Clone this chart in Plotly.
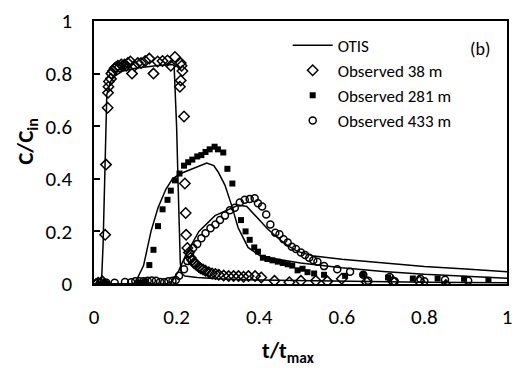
import plotly.graph_objects as go

# OTIS model curves
otis38_x = [0.0, 0.018, 0.022, 0.026, 0.031, 0.04, 0.05, 0.07, 0.1, 0.15, 0.19, 0.194, 0.2, 0.205, 0.209, 0.212, 0.22, 0.25, 0.3, 0.4, 0.6, 0.8, 1.0]
otis38_y = [0.0, 0.0, 0.15, 0.45, 0.72, 0.77, 0.79, 0.81, 0.82, 0.83, 0.835, 0.83, 0.6, 0.3, 0.08, 0.04, 0.03, 0.025, 0.02, 0.015, 0.01, 0.007, 0.005]

otis281_x = [0.0, 0.09, 0.10, 0.12, 0.138, 0.155, 0.174, 0.19, 0.21, 0.24, 0.273, 0.29, 0.301, 0.317, 0.333, 0.349, 0.373, 0.404, 0.45, 0.5, 0.6, 0.7, 0.8, 0.9, 1.0]
otis281_y = [0.0, 0.0, 0.005, 0.07, 0.2, 0.29, 0.36, 0.40, 0.42, 0.44, 0.46, 0.45, 0.425, 0.376, 0.30, 0.214, 0.139, 0.105, 0.092, 0.08, 0.062, 0.048, 0.037, 0.029, 0.022]

otis433_x = [0.0, 0.175, 0.19, 0.205, 0.222, 0.254, 0.293, 0.333, 0.35, 0.37, 0.397, 0.42, 0.445, 0.47, 0.493, 0.533, 0.6, 0.716, 0.8, 0.9, 1.0]
otis433_y = [0.0, 0.0, 0.012, 0.05, 0.11, 0.20, 0.26, 0.29, 0.30, 0.295, 0.25, 0.21, 0.175, 0.145, 0.124, 0.106, 0.094, 0.079, 0.067, 0.057, 0.047]

# Observed 38 m
obs38_x = [0.005, 0.01, 0.015, 0.02, 0.025, 0.027, 0.029, 0.033, 0.034, 0.035, 0.036, 0.041, 0.042, 0.046, 0.05, 0.054,
           0.058, 0.062, 0.066, 0.07, 0.074, 0.078, 0.082, 0.088, 0.092, 0.098, 0.106, 0.114, 0.124, 0.134, 0.144,
           0.154, 0.166, 0.178, 0.186, 0.196, 0.21, 0.212, 0.214, 0.21, 0.208, 0.218, 0.22, 0.222, 0.223, 0.226,
           0.23, 0.234, 0.238, 0.242, 0.246, 0.25, 0.254, 0.258, 0.264, 0.27, 0.278, 0.286, 0.294, 0.302, 0.314,
           0.326, 0.338, 0.35, 0.362, 0.374, 0.39, 0.405, 0.437, 0.473, 0.501, 0.537, 0.565, 0.6, 0.66, 0.724, 0.788, 0.852]
obs38_y = [0.0, 0.005, 0.0, 0.01, 0.0, 0.187, 0.454, 0.67, 0.727, 0.75, 0.77, 0.78, 0.80, 0.81, 0.82, 0.825,
           0.83, 0.825, 0.835, 0.83, 0.835, 0.83, 0.84, 0.846, 0.80, 0.83, 0.84, 0.84, 0.848, 0.857, 0.80,
           0.846, 0.848, 0.85, 0.83, 0.863, 0.84, 0.83, 0.81, 0.774, 0.75, 0.637, 0.382, 0.27, 0.187, 0.137,
           0.12, 0.10, 0.09, 0.08, 0.075, 0.07, 0.065, 0.06, 0.055, 0.05, 0.045, 0.04, 0.038, 0.035, 0.032,
           0.03, 0.03, 0.03, 0.028, 0.03, 0.03, 0.025, 0.012, 0.007, 0.012, 0.012, 0.01, 0.02, 0.008, 0.01, 0.01, -0.004]

# Observed 281 m
obs281_x = [0.02, 0.025, 0.03, 0.11, 0.125, 0.134, 0.144, 0.155, 0.166, 0.178, 0.186, 0.196, 0.207, 0.218, 0.228,
            0.238, 0.25, 0.26, 0.27, 0.28, 0.292, 0.30, 0.313, 0.323, 0.335, 0.356, 0.367, 0.377, 0.388, 0.397,
            0.409, 0.42, 0.432, 0.445, 0.457, 0.469, 0.48, 0.493, 0.505, 0.517, 0.533, 0.557, 0.608, 0.651,
            0.712, 0.772, 0.832, 0.896, 0.955]
obs281_y = [0.0, 0.005, 0.0, 0.005, 0.01, 0.072, 0.13, 0.22, 0.284, 0.32, 0.355, 0.394, 0.42, 0.45, 0.463,
            0.473, 0.485, 0.49, 0.502, 0.512, 0.522, 0.512, 0.50, 0.438, 0.382, 0.243, 0.20, 0.168, 0.139, 0.123,
            0.10, 0.095, 0.09, 0.085, 0.08, 0.075, 0.07, 0.052, 0.058, 0.045, 0.04, 0.035, 0.031, 0.035,
            0.025, 0.021, 0.021, 0.02, 0.016]

# Observed 433 m
obs433_x = [0.015, 0.03, 0.05, 0.075, 0.09, 0.1, 0.11, 0.12, 0.13, 0.14, 0.15, 0.16, 0.17, 0.18, 0.19, 0.198,
            0.206, 0.218, 0.226, 0.232, 0.24, 0.25, 0.26, 0.27, 0.282, 0.294, 0.305, 0.317, 0.329, 0.341, 0.353,
            0.365, 0.377, 0.389, 0.397, 0.407, 0.417, 0.427, 0.439, 0.449, 0.459, 0.469, 0.479, 0.489, 0.501,
            0.511, 0.521, 0.531, 0.541, 0.557, 0.589, 0.62, 0.652, 0.664, 0.716, 0.728, 0.79, 0.80, 0.85, 0.906]
obs433_y = [0.005, 0.005, 0.005, 0.008, 0.007, 0.01, 0.01, 0.01, 0.012, 0.013, 0.012, 0.008, 0.007, 0.01, 0.012, 0.015,
            0.031, 0.056, 0.087, 0.115, 0.137, 0.152, 0.174, 0.193, 0.212, 0.226, 0.243, 0.26, 0.28, 0.29, 0.31,
            0.32, 0.323, 0.326, 0.307, 0.295, 0.264, 0.226, 0.195, 0.189, 0.17, 0.158, 0.142, 0.133, 0.12,
            0.11, 0.10, 0.09, 0.085, 0.068, 0.056, 0.047, 0.035, 0.012, 0.027, 0.01, 0.02, 0.01, 0.016, 0.012]

x_ticks = [0, 0.2, 0.4, 0.6, 0.8, 1]
x_tick_labels = ["0", "0.2", "0.4", "0.6", "0.8", "1"]
y_ticks = [0, 0.2, 0.4, 0.6, 0.8, 1]
y_tick_labels = ["0", "0.2", "0.4", "0.6", "0.8", "1"]

FONT = "Carlito, Calibri, Lato, sans-serif"

fig = go.Figure()
line_style = dict(color="black", width=1.5)
fig.add_trace(go.Scatter(x=otis38_x, y=otis38_y, mode="lines", line=line_style, name="OTIS",
                         legendgroup="otis", showlegend=True))
fig.add_trace(go.Scatter(x=otis281_x, y=otis281_y, mode="lines", line=line_style, name="OTIS",
                         legendgroup="otis", showlegend=False))
fig.add_trace(go.Scatter(x=otis433_x, y=otis433_y, mode="lines", line=line_style, name="OTIS",
                         legendgroup="otis", showlegend=False))
fig.add_trace(go.Scatter(x=obs38_x, y=obs38_y, mode="markers", name="Observed 38 m",
                         marker=dict(symbol="diamond-open", size=8, color="black", line=dict(width=1.5))))
fig.add_trace(go.Scatter(x=obs281_x, y=obs281_y, mode="markers", name="Observed 281 m",
                         marker=dict(symbol="square", size=6, color="black", line=dict(width=0))))
fig.add_trace(go.Scatter(x=obs433_x, y=obs433_y, mode="markers", name="Observed 433 m",
                         marker=dict(symbol="circle-open", size=7, color="black", line=dict(width=1.5))))

fig.update_layout(
    width=520, height=368,
    margin=dict(l=94, r=8, t=16, b=84),
    paper_bgcolor="white", plot_bgcolor="white",
    font=dict(family=FONT, size=21, color="black"),
    showlegend=True,
    legend=dict(x=0.469, y=0.975, xanchor="left", yanchor="top", bgcolor="rgba(0,0,0,0)",
                font=dict(size=17), tracegroupgap=0, itemwidth=40),
    xaxis=dict(range=[0, 1], tickvals=x_ticks, ticktext=x_tick_labels, showgrid=False, zeroline=False,
               showline=True, linecolor="black", linewidth=1.5, mirror=True, ticks="", ticklabelstandoff=13),
    yaxis=dict(range=[0, 1], tickvals=y_ticks, ticktext=y_tick_labels, showgrid=False, zeroline=False,
               showline=True, linecolor="black", linewidth=1.5, mirror=True, ticks="inside", ticklen=6,
               tickcolor="black", tickwidth=1.5, ticklabelstandoff=16),
    annotations=[
        dict(text="(b)", xref="paper", yref="paper", x=0.935, y=0.895, showarrow=False,
             font=dict(size=18), xanchor="center", yanchor="middle"),
        dict(text="<b>t/t<sub>max</sub></b>", xref="paper", yref="paper", x=0.47, y=-0.26,
             showarrow=False, font=dict(size=22), xanchor="center", yanchor="middle"),
        dict(text="<b>C/C<sub>in</sub></b>", xref="paper", yref="paper", x=-0.163, y=0.543, textangle=-90,
             showarrow=False, font=dict(size=23), xanchor="center", yanchor="middle"),
    ],
)

fig.write_html("out.html")
